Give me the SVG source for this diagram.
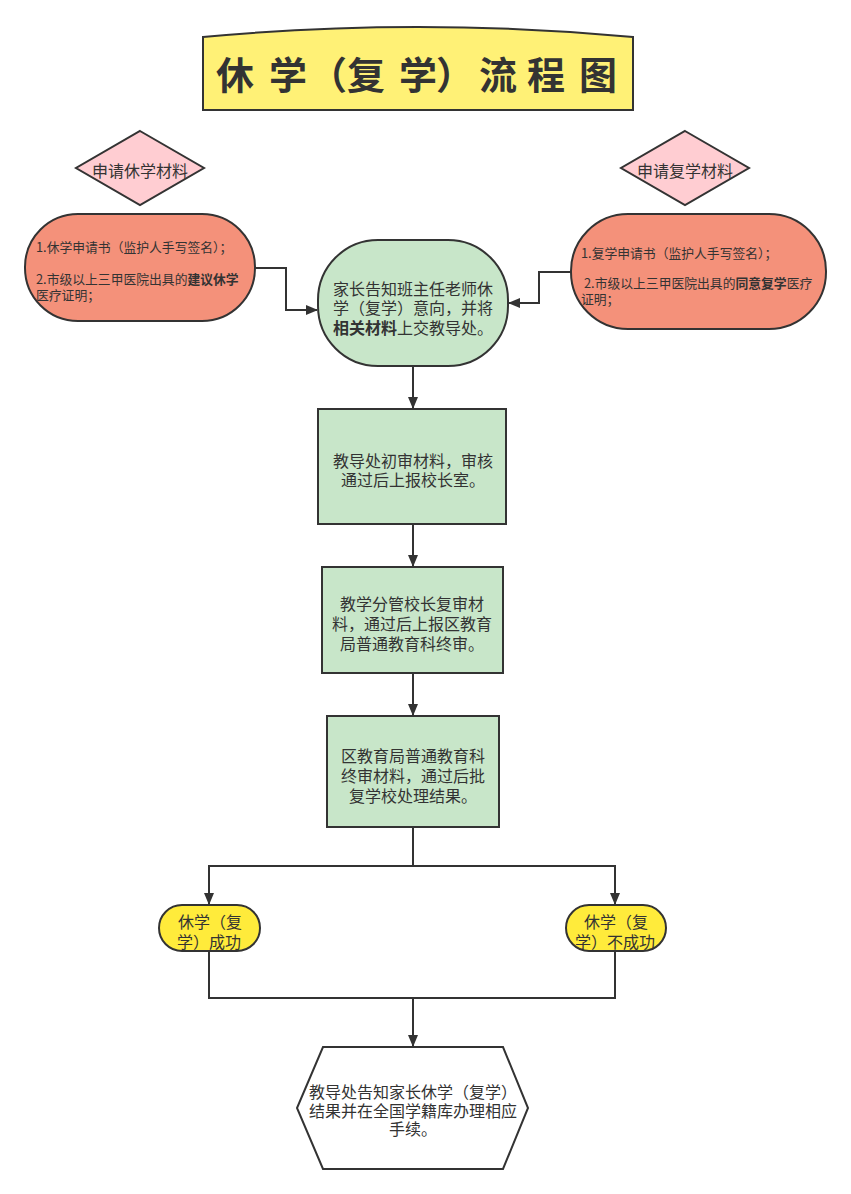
<svg xmlns="http://www.w3.org/2000/svg" width="851" height="1194" viewBox="0 0 851 1194">
<style>
  .shape { stroke: #333333; stroke-width: 2; }
  .t { font-family: "Noto Sans CJK SC", "Noto Sans", sans-serif; fill: #333333; dominant-baseline: central; }
  .c { text-anchor: middle; font-size: 16px; }
  .s { font-size: 12.8px; }
  .b { font-weight: bold; }
  .conn { fill: none; stroke: #333333; stroke-width: 2; }
</style>
<defs>
  <marker id="arr" markerUnits="userSpaceOnUse" markerWidth="12" markerHeight="12" viewBox="0 0 12 12" refX="11" refY="6" orient="auto">
    <path d="M0,1 L12,6 L0,11 Z" fill="#333333"/>
  </marker>
</defs>
<rect width="851" height="1194" fill="#ffffff"/>

<g id="title">
  <path class="shape" d="M203,37 Q418,17 633,37 L633,110 L203,110 Z" fill="#FFF176"/>
  <text class="t b" font-size="38" x="216 269 309 347 399 436 479 527 579" y="72">休学（复学）流程图</text>
</g>

<g id="diamond-left">
  <polygon class="shape" points="140,131 204,168 140,205 76,168" fill="#FFCDD2"/>
  <text class="t c" x="140" y="170">申请休学材料</text>
</g>

<g id="diamond-right">
  <polygon class="shape" points="685,131 749,168 685,205 621,168" fill="#FFCDD2"/>
  <text class="t c" x="685" y="170">申请复学材料</text>
</g>

<g id="materials-left">
  <rect class="shape" x="25" y="214" width="230" height="107" rx="53" ry="53" fill="#F4917A"/>
  <text class="t s" x="36" y="246">1.休学申请书（监护人手写签名）；</text>
  <text class="t s" x="36" y="278">2.市级以上三甲医院出具的<tspan class="b">建议休学</tspan></text>
  <text class="t s" x="36" y="294">医疗证明；</text>
</g>

<g id="materials-right">
  <rect class="shape" x="571" y="214" width="255" height="115" rx="57" ry="57" fill="#F4917A"/>
  <text class="t s" x="581" y="252">1.复学申请书（监护人手写签名）；</text>
  <text class="t s" x="584" y="282">2.市级以上三甲医院出具的<tspan class="b">同意复学</tspan>医疗</text>
  <text class="t s" x="581" y="298">证明；</text>
</g>

<g id="step1">
  <rect class="shape" x="318" y="240" width="190" height="126" rx="60" ry="60" fill="#C8E6C9"/>
  <text class="t c" x="413" y="288">家长告知班主任老师休</text>
  <text class="t c" x="413" y="307">学（复学）意向，并将</text>
  <text class="t c" x="413" y="327"><tspan class="b">相关材料</tspan>上交教导处。</text>
</g>

<g id="step2">
  <rect class="shape" x="318" y="409" width="188" height="115" fill="#C8E6C9"/>
  <text class="t c" x="413" y="460">教导处初审材料，审核</text>
  <text class="t c" x="413" y="479">通过后上报校长室。</text>
</g>

<g id="step3">
  <rect class="shape" x="322" y="567" width="181" height="106" fill="#C8E6C9"/>
  <text class="t c" x="412" y="603">教学分管校长复审材</text>
  <text class="t c" x="412" y="623">料，通过后上报区教育</text>
  <text class="t c" x="412" y="643">局普通教育科终审。</text>
</g>

<g id="step4">
  <rect class="shape" x="327" y="716" width="172" height="111" fill="#C8E6C9"/>
  <text class="t c" x="413" y="755">区教育局普通教育科</text>
  <text class="t c" x="413" y="775">终审材料，通过后批</text>
  <text class="t c" x="413" y="795">复学校处理结果。</text>
</g>

<g id="result-success">
  <rect class="shape" x="159" y="905" width="101" height="46" rx="23" ry="23" fill="#FFEB3B"/>
  <text class="t c" x="210" y="921">休学（复</text>
  <text class="t c" x="209" y="941">学）成功</text>
</g>

<g id="result-fail">
  <rect class="shape" x="566" y="905" width="100" height="46" rx="23" ry="23" fill="#FFEB3B"/>
  <text class="t c" x="616" y="921">休学（复</text>
  <text class="t c" x="615" y="941">学）不成功</text>
</g>

<g id="notify">
  <polygon class="shape" points="323,1047 503,1047 528,1108 503,1169 323,1169 297,1108" fill="#ffffff"/>
  <text class="t c" x="413" y="1091">教导处告知家长休学（复学）</text>
  <text class="t c" x="413" y="1110">结果并在全国学籍库办理相应</text>
  <text class="t c" x="413" y="1128">手续。</text>
</g>

<g id="connectors">
  <path class="conn" d="M255,268 H286 V310 H317" marker-end="url(#arr)"/>
  <path class="conn" d="M571,272 H539 V303 H509" marker-end="url(#arr)"/>
  <path class="conn" d="M413,366 V408" marker-end="url(#arr)"/>
  <path class="conn" d="M413,524 V566" marker-end="url(#arr)"/>
  <path class="conn" d="M413,673 V715" marker-end="url(#arr)"/>
  <path class="conn" d="M413,827 V866 H209 V904" marker-end="url(#arr)"/>
  <path class="conn" d="M413,866 H615 V904" marker-end="url(#arr)"/>
  <path class="conn" d="M209,951 V998 H615 V951"/>
  <path class="conn" d="M413,998 V1046" marker-end="url(#arr)"/>
</g>
</svg>
